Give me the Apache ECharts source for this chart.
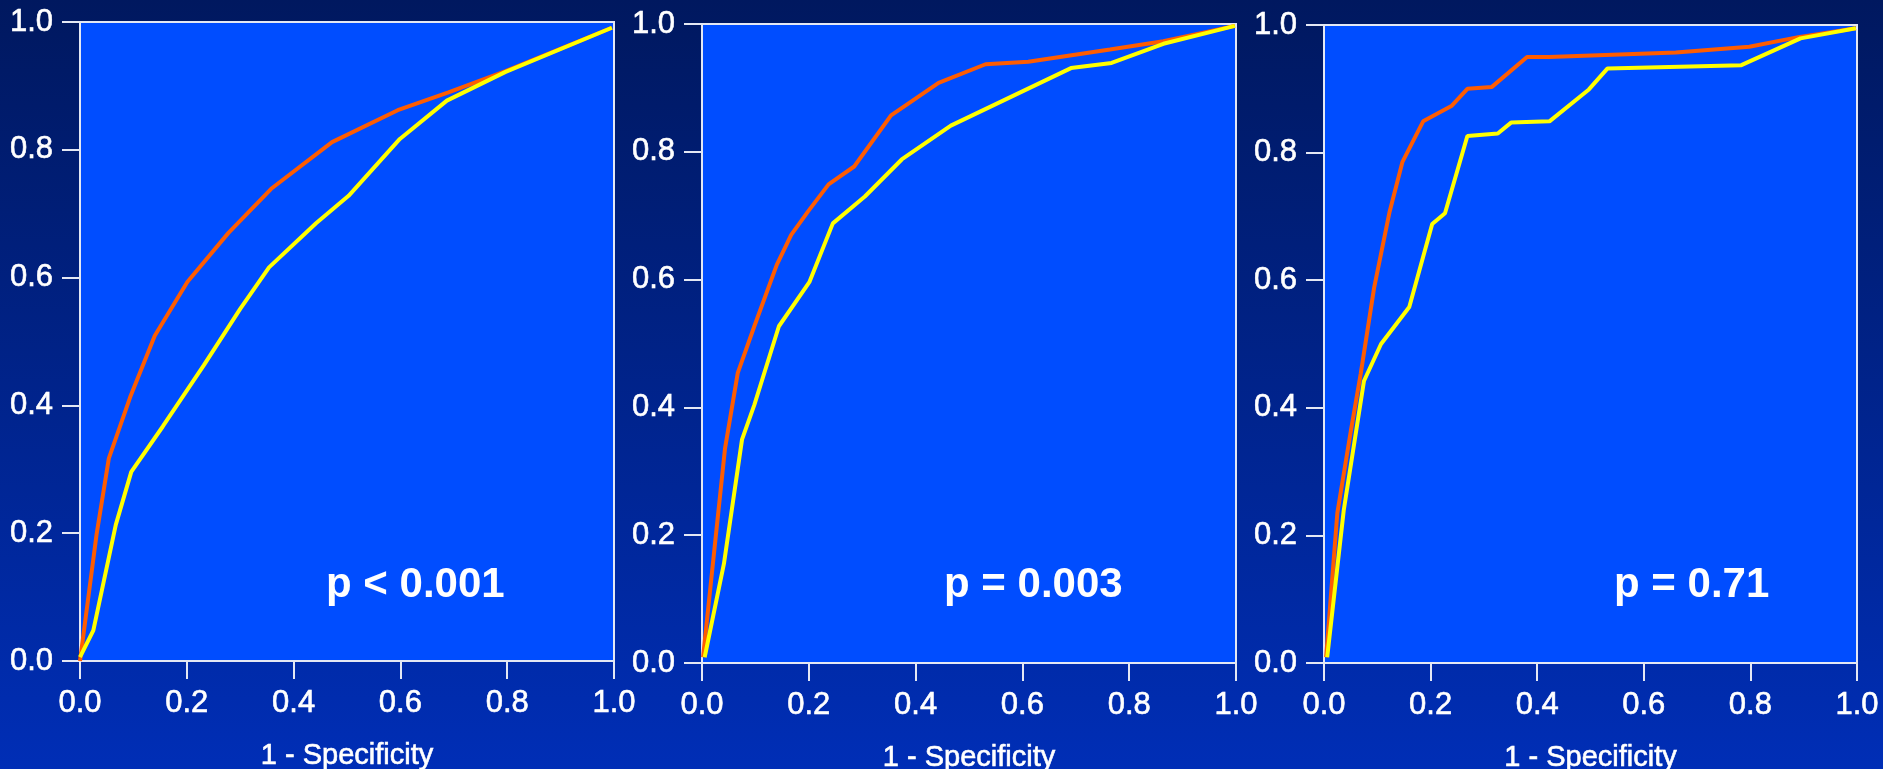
<head>
    <meta charset="utf-8">
    <title>ROC curves</title>
    <script src="https://cdn.jsdelivr.net/npm/echarts@6/dist/echarts.min.js"></script>
</head>

<body style="margin:0; background:#001a66;">
    <div id="main" style="width: 1883px; height: 769px;"></div>

    <script type="text/javascript">

        // [1 - specificity, sensitivity]
        const roc1Orange = [[0, 0], [0.031, 0.198], [0.054, 0.317], [0.094, 0.413], [0.140, 0.509], [0.201, 0.593],
            [0.278, 0.670], [0.358, 0.739], [0.472, 0.812], [0.595, 0.862], [0.690, 0.890], [0.797, 0.923], [0.996, 0.991]]
        const roc1Yellow = [[0, 0.006], [0.025, 0.048], [0.067, 0.213], [0.096, 0.296], [0.155, 0.367], [0.232, 0.463],
            [0.300, 0.551], [0.354, 0.616], [0.442, 0.685], [0.503, 0.728], [0.599, 0.817], [0.687, 0.877], [0.797, 0.922], [0.996, 0.991]]

        const roc2Orange = [[0.002, 0.009], [0.043, 0.335], [0.067, 0.454], [0.098, 0.527], [0.140, 0.623], [0.167, 0.670],
            [0.198, 0.706], [0.237, 0.749], [0.285, 0.777], [0.354, 0.857], [0.443, 0.908], [0.531, 0.937], [0.611, 0.941],
            [0.764, 0.960], [0.864, 0.973], [0.998, 0.997]]
        const roc2Yellow = [[0.005, 0.009], [0.041, 0.155], [0.075, 0.350], [0.098, 0.404], [0.144, 0.527], [0.201, 0.596],
            [0.245, 0.688], [0.305, 0.730], [0.374, 0.788], [0.466, 0.841], [0.691, 0.931], [0.767, 0.939], [0.864, 0.969], [0.998, 0.997]]

        const roc3Orange = [[0.004, 0.009], [0.025, 0.235], [0.050, 0.362], [0.069, 0.454], [0.094, 0.588], [0.123, 0.707],
            [0.147, 0.785], [0.186, 0.849], [0.239, 0.873], [0.269, 0.900], [0.315, 0.903], [0.381, 0.950], [0.422, 0.950],
            [0.660, 0.957], [0.798, 0.966], [0.890, 0.981], [0.998, 0.995]]
        const roc3Yellow = [[0.006, 0.009], [0.037, 0.239], [0.075, 0.442], [0.107, 0.500], [0.160, 0.558], [0.203, 0.688],
            [0.227, 0.705], [0.269, 0.826], [0.326, 0.830], [0.351, 0.847], [0.423, 0.849], [0.497, 0.899], [0.532, 0.932],
            [0.783, 0.937], [0.894, 0.979], [0.998, 0.995]]

        const pLabels = ['p < 0.001', 'p = 0.003', 'p = 0.71']
        const xTitle = '1 - Specificity'

        const orangeCurves = [roc1Orange, roc2Orange, roc3Orange]
        const yellowCurves = [roc1Yellow, roc2Yellow, roc3Yellow]

        var myChart = echarts.init(document.getElementById('main'));

        const font = "'Liberation Sans', Arial, sans-serif"
        const lineCol = '#e4e8f4'
        const grids = [
            { left: 80, top: 22, width: 534, height: 639 },
            { left: 702, top: 24, width: 534, height: 639 },
            { left: 1324, top: 25, width: 533, height: 638 }
        ]
        const pPos = [[326, 564], [944, 564], [1614, 564]]

        const axisCommon = {
            type: 'value',
            min: 0,
            max: 1,
            interval: 0.2,
            axisLine: { show: true, lineStyle: { color: lineCol, width: 2 } },
            axisTick: { show: true, length: 18, lineStyle: { color: lineCol, width: 2 } },
            axisLabel: {
                color: '#ffffff', fontSize: 31, fontFamily: font, margin: 27,
                textBorderColor: '#ffffff', textBorderWidth: 0.6,
                formatter: v => v.toFixed(1)
            },
            splitLine: { show: false }
        }

        option = {
            backgroundColor: {
                type: 'linear', x: 0, y: 0, x2: 0, y2: 1,
                colorStops: [{ offset: 0, color: '#00185f' }, { offset: 1, color: '#002eb6' }]
            },
            animation: false,
            grid: grids.map(g => Object.assign({
                show: true, backgroundColor: '#004dff', borderColor: lineCol, borderWidth: 2,
                containLabel: false, outerBoundsMode: 'none'
            }, g)),
            xAxis: grids.map((g, i) => Object.assign({}, axisCommon, {
                gridIndex: i,
                name: xTitle,
                nameLocation: 'middle',
                nameGap: 80,
                nameTextStyle: {
                    color: '#ffffff', fontSize: 29, fontFamily: font,
                    textBorderColor: '#ffffff', textBorderWidth: 0.6
                }
            })),
            yAxis: grids.map((g, i) => Object.assign({}, axisCommon, { gridIndex: i })),
            graphic: pLabels.map((t, i) => ({
                type: 'text',
                left: pPos[i][0],
                top: pPos[i][1],
                z: 100,
                style: { text: t, fill: '#ffffff', font: 'bold 42px ' + font }
            })),
            series: []
        };

        for (let i = 0; i < 3; i++) {
            option.series.push({
                type: 'line', xAxisIndex: i, yAxisIndex: i, data: orangeCurves[i],
                showSymbol: false, z: 2,
                lineStyle: { color: '#ff5c00', width: 4 }
            })
            option.series.push({
                type: 'line', xAxisIndex: i, yAxisIndex: i, data: yellowCurves[i],
                showSymbol: false, z: 3,
                lineStyle: { color: '#ffff00', width: 4 }
            })
        }

        myChart.setOption(option);
    </script>
</body>
